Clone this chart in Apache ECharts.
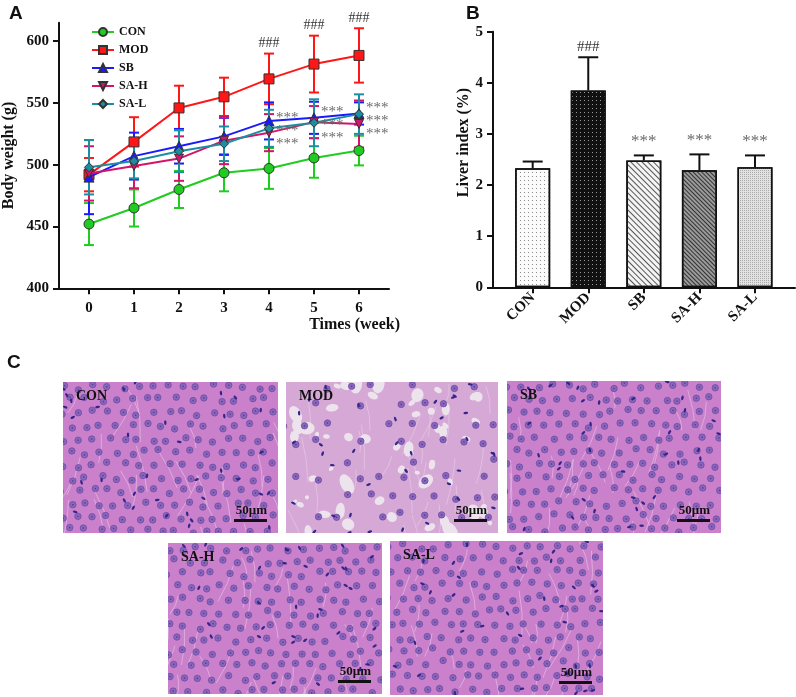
<!DOCTYPE html>
<html lang="en">
<head>
<meta charset="UTF-8">
<title>Body weight, liver index and liver histology</title>
<script src="https://cdn.jsdelivr.net/npm/echarts@6.0.0/dist/echarts.min.js"></script>
<style>
  html, body { margin: 0; padding: 0; background: #fff; }
  #main { width: 796px; height: 697px; }
</style>
</head>
<body>
<div id="main"></div>
<script>
// ---- panel A: body weight (g) by week ----
var weeks = [0, 1, 2, 3, 4, 5, 6];
var yTicksA = [400, 450, 500, 550, 600];
var conW = [452, 465, 480, 493.5, 497, 505.5, 511.5];
var conE = [17, 15, 15, 15, 16.5, 16, 12];
var modW = [492, 518.5, 546, 555, 569.5, 581.5, 588.5];
var modE = [13.5, 20, 18, 15.5, 20.5, 23, 22];
var sbW = [490, 507, 515, 523, 535.5, 538, 541.5];
var sbE = [30, 19, 14, 15, 15, 13, 9];
var sahW = [493, 499, 505, 519.5, 526, 534.5, 533];
var sahE = [22, 18, 18, 19, 15, 13, 19];
var salW = [498, 503, 511, 517, 529.5, 534, 541];
var salE = [22, 14, 17, 14, 15, 19, 16];
var markWeeks = [4, 5, 6];

// ---- panel B: liver index (%) ----
var groups = ['CON', 'MOD', 'SB', 'SA-H', 'SA-L'];
var liver = [2.33, 3.85, 2.48, 2.29, 2.35];
var liverE = [0.13, 0.65, 0.10, 0.31, 0.23];
var liverMark = ['', '###', '***', '***', '***'];

var SERIF = '"Liberation Serif", "Times New Roman", serif';
var SANS = '"Liberation Sans", Arial, sans-serif';

function pairs(xs, ys) {
  return xs.map(function (x, i) { return [x, ys[i]]; });
}
function triples(xs, ys, es) {
  return xs.map(function (x, i) { return [x, ys[i], es[i]]; });
}

// error bar with caps, both directions
function errRender(color) {
  return function (params, api) {
    var x = api.value(0), m = api.value(1), e = api.value(2);
    var t = api.coord([x, m + e]), b = api.coord([x, m - e]);
    var cw = 5;
    var st = { stroke: color, lineWidth: 2 };
    return {
      type: 'group',
      children: [
        { type: 'line', shape: { x1: t[0], y1: t[1], x2: b[0], y2: b[1] }, style: st },
        { type: 'line', shape: { x1: t[0] - cw, y1: t[1], x2: t[0] + cw, y2: t[1] }, style: st },
        { type: 'line', shape: { x1: b[0] - cw, y1: b[1], x2: b[0] + cw, y2: b[1] }, style: st }
      ]
    };
  };
}

var lineDefs = [
  { name: 'CON', w: conW, e: conE, color: '#1fcc1f', symbol: 'circle', size: 10 },
  { name: 'MOD', w: modW, e: modE, color: '#ff1616', symbol: 'rect', size: 10 },
  { name: 'SB', w: sbW, e: sbE, color: '#1a1aff', symbol: 'triangle', size: 10 },
  { name: 'SA-H', w: sahW, e: sahE, color: '#d4136b', symbol: 'path://M0,0 L10,0 L5,9 Z', size: 9 },
  { name: 'SA-L', w: salW, e: salE, color: '#1b8f9f', symbol: 'diamond', size: 9 }
];

var series = [];
lineDefs.forEach(function (d, k) {
  series.push({
    name: d.name + ' err', type: 'custom', xAxisIndex: 0, yAxisIndex: 0,
    renderItem: errRender(d.color), data: triples(weeks, d.w, d.e),
    z: 2 + k, silent: true
  });
});
[4, 2, 3, 0, 1].forEach(function (k) {
  var d = lineDefs[k];
  series.push({
    name: d.name, type: 'line', xAxisIndex: 0, yAxisIndex: 0,
    data: pairs(weeks, d.w),
    symbol: d.symbol, symbolSize: d.size,
    itemStyle: { color: d.color, borderColor: '#333', borderWidth: 1 },
    lineStyle: { color: d.color, width: 2 },
    z: 10 + k
  });
});

// ### above MOD, *** beside the treated groups
series.push({
  type: 'custom', xAxisIndex: 0, yAxisIndex: 0, silent: true, z: 20,
  data: markWeeks.map(function (w) {
    return [w, modW[w] + modE[w], (sbW[w] + sahW[w] + salW[w]) / 3];
  }),
  renderItem: function (params, api) {
    var x = api.value(0);
    var h = api.coord([x, api.value(1)]);
    var s = api.coord([x, api.value(2)]);
    var kids = [{
      type: 'text',
      style: { x: h[0], y: h[1] - 3, text: '###', align: 'center', verticalAlign: 'bottom',
        fontFamily: SERIF, fontSize: 14, fill: '#333' }
    }];
    [-13, 0, 13].forEach(function (dy) {
      kids.push({
        type: 'text',
        style: { x: s[0] + 7, y: s[1] + dy + 4, text: '***', align: 'left', verticalAlign: 'middle',
          fontFamily: SERIF, fontSize: 15, fill: '#6b6b6b' }
      });
    });
    return { type: 'group', children: kids };
  }
});

// bars with hatch patterns
var barStyles = [
  { color: '#fbfbfb', decal: { symbol: 'rect', symbolSize: 1, dashArrayX: [1, 3], dashArrayY: [1, 3], color: '#8a8a8a' } },
  { color: '#111111', decal: { symbol: 'rect', symbolSize: 1, dashArrayX: [1, 3], dashArrayY: [1, 3], color: '#9a9a9a' } },
  { color: '#f4f4f4', decal: { symbol: 'rect', symbolSize: 1, dashArrayX: [1, 0], dashArrayY: [1, 3], rotation: Math.PI / 4, color: '#555' } },
  { color: '#9a9a9a', decal: { symbol: 'rect', symbolSize: 1, dashArrayX: [1, 0], dashArrayY: [1, 2], rotation: Math.PI / 4, color: '#333' } },
  { color: '#e2e2e2', decal: { symbol: 'rect', symbolSize: 1, dashArrayX: [1, 1], dashArrayY: [1, 1], color: '#aaa' } }
];
series.push({
  type: 'bar', xAxisIndex: 1, yAxisIndex: 1, barWidth: 35, z: 5,
  data: liver.map(function (v, i) {
    return {
      value: [i, v],
      itemStyle: { color: barStyles[i].color, decal: barStyles[i].decal, borderColor: '#111', borderWidth: 1.5 }
    };
  })
});
series.push({
  type: 'custom', xAxisIndex: 1, yAxisIndex: 1, silent: true, z: 4,
  data: liver.map(function (v, i) { return [i, v, liverE[i]]; }),
  renderItem: function (params, api) {
    var x = api.value(0), m = api.value(1), e = api.value(2);
    var t = api.coord([x, m + e]), b = api.coord([x, m]);
    var st = { stroke: '#111', lineWidth: 2 };
    var mark = liverMark[params.dataIndex];
    var kids = [
      { type: 'line', shape: { x1: t[0], y1: t[1], x2: b[0], y2: b[1] }, style: st },
      { type: 'line', shape: { x1: t[0] - 10, y1: t[1], x2: t[0] + 10, y2: t[1] }, style: st }
    ];
    if (mark) {
      var star = mark === '***';
      kids.push({
        type: 'text',
        style: { x: t[0], y: t[1] - (star ? 5 : 3), text: mark, align: 'center', verticalAlign: 'bottom',
          fontFamily: SERIF, fontSize: star ? 17 : 15, fill: star ? '#6b6b6b' : '#333' }
      });
    }
    return { type: 'group', children: kids };
  }
});

// ---- panel C: stained liver sections (texture only) ----
function tissue(w, h, kind, seed) {
  var c = document.createElement('canvas');
  c.width = w; c.height = h;
  var g = c.getContext('2d');
  var rnd = function (i) {
    var v = Math.sin(i * 12.9898 + seed * 78.233) * 43758.5453;
    return v - Math.floor(v);
  };
  var mod = kind === 'mod';
  g.fillStyle = mod ? '#d6a8d6' : '#ca80cb';
  g.fillRect(0, 0, w, h);
  // pale sinusoid gaps
  g.strokeStyle = mod ? 'rgba(236,214,236,0.5)' : 'rgba(228,190,228,0.7)';
  g.lineWidth = 1;
  for (var k = 0; k < 28; k++) {
    var sx = rnd(k * 7 + 1) * w, sy = rnd(k * 7 + 2) * h;
    var a = 1.1 + rnd(k * 7 + 3) * 1.0, len = 18 + rnd(k * 7 + 4) * 30;
    g.beginPath();
    g.moveTo(sx, sy);
    g.quadraticCurveTo(sx + Math.cos(a) * len * 0.5 + 3, sy + Math.sin(a) * len * 0.5,
      sx + Math.cos(a) * len, sy + Math.sin(a) * len);
    g.stroke();
  }
  if (mod) {
    g.fillStyle = '#ece3ec';
    for (k = 0; k < 55; k++) {
      var vx = rnd(k * 5 + 300) * w, vy = rnd(k * 5 + 301) * h, r = 1.5 + rnd(k * 5 + 302) * 5;
      g.beginPath();
      g.ellipse(vx, vy, r * (1 + rnd(k * 5 + 303) * 0.8), r, rnd(k * 5 + 304) * 3, 0, Math.PI * 2);
      g.fill();
    }
  }
  var step = mod ? 21 : 15, row = 0, idx = 0;
  for (var yy = 5; yy < h; yy += step * 0.87, row++) {
    for (var xx = (row % 2) * step / 2; xx < w; xx += step) {
      idx++;
      if (mod && rnd(idx + 555) < 0.4) continue;
      var nx = xx + (rnd(idx) - 0.5) * 6, ny = yy + (rnd(idx + 999) - 0.5) * 6;
      g.fillStyle = '#8a66bb';
      g.beginPath(); g.arc(nx, ny, 3.2, 0, Math.PI * 2); g.fill();
      g.strokeStyle = '#6d4ca5'; g.lineWidth = 0.8; g.stroke();
      g.fillStyle = '#543b98';
      g.fillRect(nx - 0.7, ny - 0.7, 1.4, 1.4);
    }
  }
  g.fillStyle = '#33268a';
  for (k = 0; k < 35; k++) {
    g.beginPath();
    g.ellipse(rnd(k * 3 + 700) * w, rnd(k * 3 + 701) * h, 2.4, 1.2, rnd(k * 3 + 702) * 3, 0, Math.PI * 2);
    g.fill();
  }
  return c;
}

var sections = [
  { name: 'CON', x: 63, y: 382, w: 215, h: 151, kind: 'n' },
  { name: 'MOD', x: 286, y: 382, w: 212, h: 151, kind: 'mod' },
  { name: 'SB', x: 507, y: 381, w: 214, h: 152, kind: 'n' },
  { name: 'SA-H', x: 168, y: 543, w: 214, h: 151, kind: 'n' },
  { name: 'SA-L', x: 390, y: 541, w: 213, h: 154, kind: 'n' }
];
var graphics = [
  { type: 'text', style: { x: 9, y: 4, text: 'A', fontFamily: SANS, fontWeight: 'bold', fontSize: 19, fill: '#111' } },
  { type: 'text', style: { x: 466, y: 4, text: 'B', fontFamily: SANS, fontWeight: 'bold', fontSize: 19, fill: '#111' } },
  { type: 'text', style: { x: 7, y: 353, text: 'C', fontFamily: SANS, fontWeight: 'bold', fontSize: 19, fill: '#111' } }
];
sections.forEach(function (s, i) {
  graphics.push({ type: 'image', silent: true, style: { image: tissue(s.w, s.h, s.kind, i + 1), x: s.x, y: s.y, width: s.w, height: s.h } });
  graphics.push({ type: 'text', style: { x: s.x + 13, y: s.y + 7, text: s.name, fontFamily: SERIF, fontWeight: 'bold', fontSize: 14, fill: '#111' } });
  graphics.push({ type: 'text', style: { x: s.x + s.w - 11, y: s.y + s.h - 16, text: '50μm', align: 'right', verticalAlign: 'bottom', fontFamily: SERIF, fontWeight: 'bold', fontSize: 13, fill: '#111' } });
  graphics.push({ type: 'rect', shape: { x: s.x + s.w - 44, y: s.y + s.h - 14, width: 33, height: 3 }, style: { fill: '#111' } });
});

var axisText = { fontFamily: SERIF, fontWeight: 'bold', fontSize: 15, color: '#111' };
var axTick = { length: 6, lineStyle: { color: '#111', width: 2 } };
function axLine() {
  return { show: true, onZero: false, lineStyle: { color: '#111', width: 2 } };
}

var option = {
  animation: false,
  backgroundColor: '#fff',
  legend: {
    data: ['CON', 'MOD', 'SB', 'SA-H', 'SA-L'],
    orient: 'vertical', left: 86, top: 21,
    itemWidth: 22, itemHeight: 10, itemGap: 6,
    textStyle: { fontFamily: SERIF, fontWeight: 'bold', fontSize: 12, color: '#111' }
  },
  grid: [
    { left: 59, top: 22.7, width: 330, height: 265.6, outerBoundsMode: 'none' },
    { left: 493, top: 31.7, width: 302, height: 255.6, outerBoundsMode: 'none' }
  ],
  xAxis: [
    {
      gridIndex: 0, type: 'value', min: -0.667, max: 6.667,
      axisLine: axLine(), splitLine: { show: false },
      axisTick: Object.assign({ customValues: weeks }, axTick),
      axisLabel: Object.assign({ customValues: weeks, margin: 12 }, axisText),
      name: 'Times (week)', nameLocation: 'end', nameGap: 11,
      nameTextStyle: { fontFamily: SERIF, fontWeight: 'bold', fontSize: 16, color: '#111',
        align: 'right', verticalAlign: 'top', padding: [29, 0, 0, 0] }
    },
    {
      gridIndex: 1, type: 'value', min: -0.714, max: 4.72,
      axisLine: axLine(), splitLine: { show: false },
      axisTick: Object.assign({ customValues: [0, 1, 2, 3, 4] }, axTick),
      axisLabel: Object.assign({
        customValues: [0, 1, 2, 3, 4], rotate: 45, margin: 8,
        formatter: function (v) { return groups[v]; }
      }, axisText)
    }
  ],
  yAxis: [
    {
      gridIndex: 0, type: 'value', min: 400, max: 615,
      axisLine: axLine(), splitLine: { show: false },
      axisTick: Object.assign({ show: true, customValues: yTicksA }, axTick),
      axisLabel: Object.assign({ customValues: yTicksA, margin: 10 }, axisText),
      name: 'Body weight (g)', nameLocation: 'middle', nameGap: 42,
      nameTextStyle: { fontFamily: SERIF, fontWeight: 'bold', fontSize: 16, color: '#111' }
    },
    {
      gridIndex: 1, type: 'value', min: 0, max: 5, interval: 1,
      axisLine: axLine(), splitLine: { show: false },
      axisTick: Object.assign({ show: true }, axTick),
      axisLabel: Object.assign({ margin: 10 }, axisText),
      name: 'Liver index (%)', nameLocation: 'middle', nameGap: 20,
      nameTextStyle: { fontFamily: SERIF, fontWeight: 'bold', fontSize: 16, color: '#111', padding: [0, 0, 0, 34] }
    }
  ],
  graphic: graphics,
  series: series
};

var chart = echarts.init(document.getElementById('main'));
chart.setOption(option);
</script>
</body>
</html>
